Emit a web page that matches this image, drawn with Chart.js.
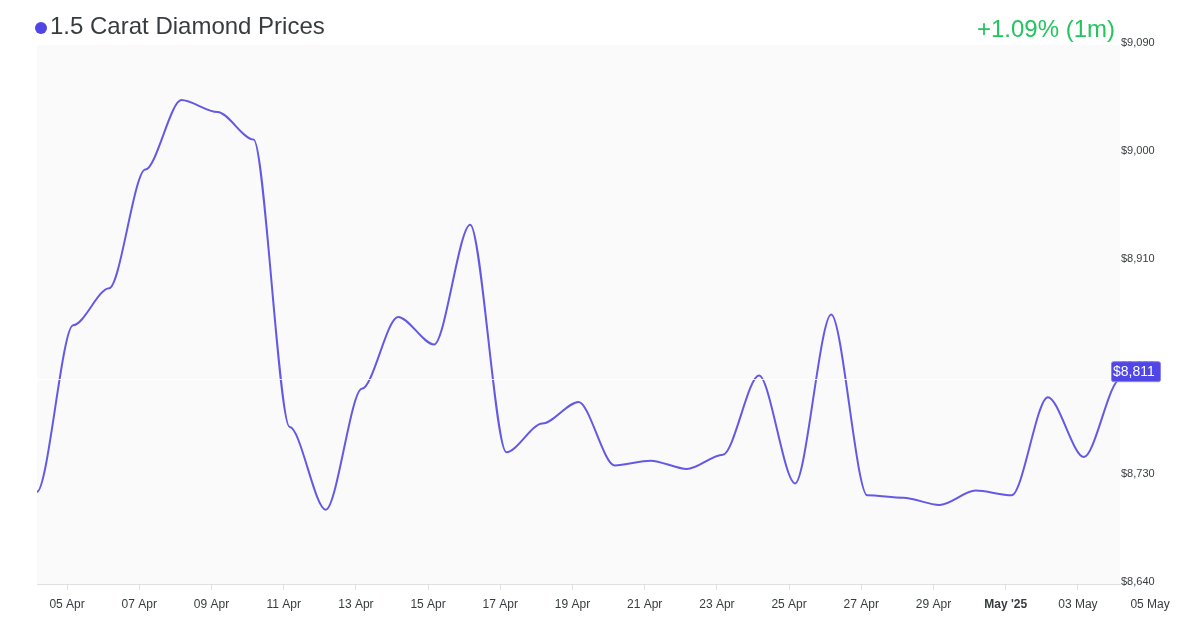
<!DOCTYPE html>
<html><head><meta charset="utf-8">
<script src="https://cdn.jsdelivr.net/npm/chart.js@4/dist/chart.umd.min.js"></script>
<style>
html,body{margin:0;padding:0;background:#fff;}
#wrap{position:relative;width:1200px;height:630px;font-family:"Liberation Sans",Arial,sans-serif;overflow:hidden;}
#dot{position:absolute;left:35px;top:21.5px;width:12px;height:12px;border-radius:50%;background:#4f46e5;}
#title{position:absolute;left:50px;top:10px;font-size:24px;line-height:32px;color:#373d3f;white-space:nowrap;}
#change{position:absolute;right:85px;top:13px;font-size:24px;line-height:32px;color:#22c55e;white-space:nowrap;}
canvas{position:absolute;left:0;top:0;}
</style></head>
<body>
<div id="wrap">
<canvas id="c" width="1200" height="630"></canvas>
<div id="dot"></div>
<div id="title">1.5 Carat Diamond Prices</div>
<div id="change">+1.09% (1m)</div>
</div>
<script>
// ---- data ----
const dates = [
 '2025-04-04','2025-04-05','2025-04-06','2025-04-07','2025-04-08','2025-04-09','2025-04-10',
 '2025-04-11','2025-04-12','2025-04-13','2025-04-14','2025-04-15','2025-04-16','2025-04-17',
 '2025-04-18','2025-04-19','2025-04-20','2025-04-21','2025-04-22','2025-04-23','2025-04-24',
 '2025-04-25','2025-04-26','2025-04-27','2025-04-28','2025-04-29','2025-04-30','2025-05-01',
 '2025-05-02','2025-05-03','2025-05-04'
];
const prices = [
 8717, 8856, 8887, 8986, 9044, 9034, 9011,
 8771, 8702, 8803, 8863, 8840, 8940, 8750,
 8774, 8792, 8739, 8743, 8736, 8748, 8814,
 8724, 8865, 8714, 8712, 8706, 8718, 8714,
 8796, 8746, 8811
];
const pointTime = 'T04:00:00';
const tickDates = ['2025-04-05','2025-04-07','2025-04-09','2025-04-11','2025-04-13','2025-04-15',
 '2025-04-17','2025-04-19','2025-04-21','2025-04-23','2025-04-25','2025-04-27','2025-04-29',
 '2025-05-01','2025-05-03','2025-05-05'];
const tickLabels = ['05 Apr','07 Apr','09 Apr','11 Apr','13 Apr','15 Apr','17 Apr','19 Apr',
 '21 Apr','23 Apr','25 Apr','27 Apr','29 Apr',"May '25",'03 May','05 May'];
const yMin = 8640, yMax = 9090, yStep = 90;
const boldLabel = "May '25";

// ---- helpers ----
const base = Date.parse('2025-04-01T00:00:00Z');
const dn = s => (Date.parse(s + 'Z') - base) / 864e5;
const fmt = v => '$' + Math.round(v).toLocaleString('en-US');
const FONT = '"Liberation Sans", Arial, sans-serif';
const points = dates.map((d, i) => ({x: dn(d + pointTime), y: prices[i]}));
const xMin = points[0].x, xMax = points[points.length - 1].x;
const tickVals = tickDates.map(d => dn(d + 'T00:00:00'));
const labelFor = v => { const k = tickVals.findIndex(t => Math.abs(t - v) < 1e-6); return k >= 0 ? tickLabels[k] : ''; };
const last = prices[prices.length - 1];
const HANDLE = 0.3; // smoothing: horizontal tangent handles as fraction of point spacing

const smoothH = {
  id: 'smoothH',
  beforeDatasetDraw(chart, args) {
    const meta = args.meta, line = meta.dataset, pts = meta.data;
    line.updateControlPoints(chart.chartArea, meta.iScale.axis);
    for (let i = 0; i < pts.length; i++) {
      const p = pts[i], pr = pts[i - 1], nx = pts[i + 1];
      if (pr) { p.cp1x = p.x - (p.x - pr.x) * HANDLE; p.cp1y = p.y; }
      if (nx) { p.cp2x = p.x + (nx.x - p.x) * HANDLE; p.cp2y = p.y; }
    }
    line._path = undefined;
  }
};

const decor = {
  id: 'decor',
  beforeDraw(chart) {
    const a = chart.chartArea, c = chart.ctx;
    c.save(); c.fillStyle = '#fafafa'; c.fillRect(a.left, a.top, a.right - a.left, a.bottom - a.top); c.restore();
  },
  afterDatasetsDraw(chart) {
    const a = chart.chartArea, c = chart.ctx, ys = chart.scales.y;
    const py = ys.getPixelForValue(last);
    c.save();
    c.strokeStyle = 'rgba(255,255,255,0.85)'; c.lineWidth = 1;
    c.beginPath(); c.moveTo(a.left, Math.round(py) + 0.5); c.lineTo(a.right, Math.round(py) + 0.5); c.stroke();
    // price tag
    const bx = a.right - 9, by = py - 18, bw = 49, bh = 20;
    c.fillStyle = '#4f46e5'; c.strokeStyle = '#8a83ef'; c.lineWidth = 1;
    c.beginPath(); c.roundRect(bx + 0.5, by + 0.5, bw, bh, 2); c.fill(); c.stroke();
    c.fillStyle = '#ffffff'; c.font = '14px ' + FONT; c.textBaseline = 'middle'; c.textAlign = 'left';
    c.fillText(fmt(last), bx + 2, by + bh / 2 + 1);
    c.restore();
  },
  afterDraw(chart) {
    const xs = chart.scales.x, c = chart.ctx;
    const items = xs.getLabelItems();
    if (!items.length) return;
    const it = items[0], o = it.options;
    const v = tickVals[tickVals.length - 1];
    if (v <= xMax) return;
    c.save();
    c.font = '12px ' + FONT; c.fillStyle = '#373d3f';
    c.textAlign = 'center'; c.textBaseline = o.textBaseline || 'middle';
    c.fillText(tickLabels[tickLabels.length - 1], xs.getPixelForValue(v), o.translation[1] + (it.textOffset || 0));
    c.restore();
  }
};

new Chart(document.getElementById('c'), {
  type: 'line',
  data: { datasets: [{
    data: points, borderColor: '#6459e5', borderWidth: 2, pointRadius: 0,
    tension: 0.4, fill: false
  }]},
  options: {
    responsive: false, animation: false, devicePixelRatio: 1,
    layout: { padding: { left: 37, top: 45, right: 0, bottom: 0 } },
    plugins: { legend: { display: false }, tooltip: { enabled: false }, title: { display: false } },
    scales: {
      x: {
        type: 'linear', min: xMin, max: xMax,
        afterBuildTicks(s) { s.ticks = tickVals.filter(v => v >= xMin && v <= xMax).map(v => ({value: v})); },
        afterFit(s) { s.height = 46; },
        grid: { drawOnChartArea: false, drawTicks: true, tickLength: 6, color: '#e0e0e0' },
        border: { display: true, color: '#e0e0e0' },
        ticks: {
          autoSkip: false, maxRotation: 0, padding: 7, color: '#373d3f',
          font: ctx => ({ family: FONT, size: 12, weight: (ctx.tick && labelFor(ctx.tick.value) === boldLabel) ? 'bold' : 'normal' }),
          callback: v => labelFor(v)
        }
      },
      y: {
        position: 'right', min: yMin, max: yMax, z: 1,
        afterFit(s) { s.width = 80; },
        grid: { display: false, drawTicks: false },
        border: { display: false },
        ticks: { stepSize: yStep, padding: 1, labelOffset: -2, color: '#373d3f',
          font: { family: FONT, size: 11 }, callback: v => fmt(v) }
      }
    }
  },
  plugins: [smoothH, decor]
});
</script>
</body></html>
